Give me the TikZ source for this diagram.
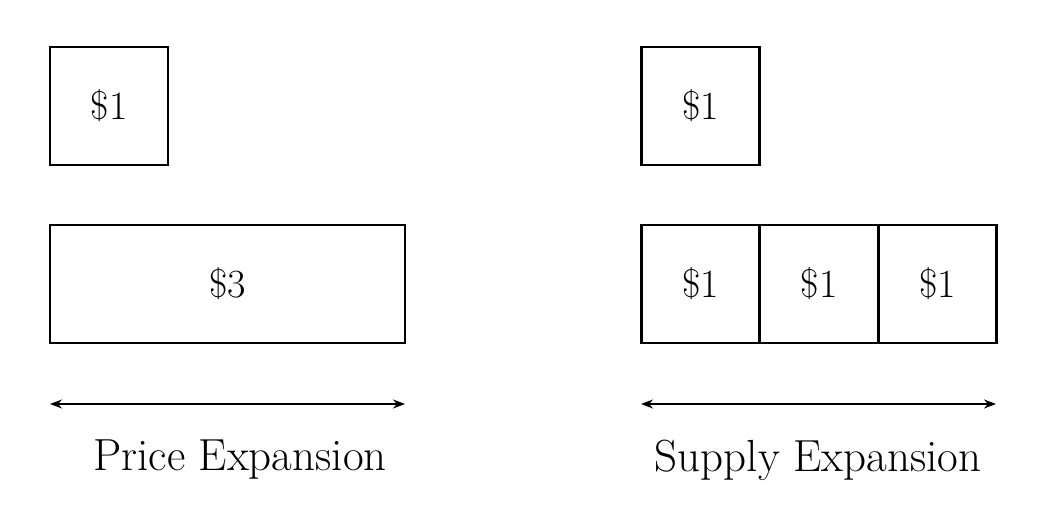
\documentclass[tikz,border=0pt]{standalone}
\usetikzlibrary{arrows.meta}
\begin{document}
\begin{tikzpicture}[x=1pt,y=-1pt,line width=2.4pt,
  cell/.style={draw,line width=2.6pt,minimum width=118pt,minimum height=118pt,inner sep=0pt,font=\fontsize{40}{46}\selectfont},
  lab/.style={font=\fontsize{45}{52}\selectfont},
  dbl/.style={line width=1.6pt,{Stealth[length=12pt,width=9pt]}-{Stealth[length=12pt,width=9pt]}}]
\useasboundingbox (0,0) rectangle (1050,513);
\node[cell] (a1) at (109,106) {\$1};
\node[cell,minimum width=355pt] (a3) at (227.5,284) {\$3};
\coordinate (al) at (50,404); \coordinate (ar) at (405,404);
\draw[dbl] (al) -- (ar);
\node[lab] (at) at (240,460) {Price Expansion};
\node[cell] (b1) at (700.5,106) {\$1};
\node[cell] (c1) at (700.5,284) {\$1};
\node[cell] (c2) at (819,284) {\$1};
\node[cell] (c3) at (937.5,284) {\$1};
\coordinate (bl) at (641,404); \coordinate (br) at (996,404);
\draw[dbl] (bl) -- (br);
\node[lab] (bt) at (818,460) {Supply Expansion};
\end{tikzpicture}
\end{document}
